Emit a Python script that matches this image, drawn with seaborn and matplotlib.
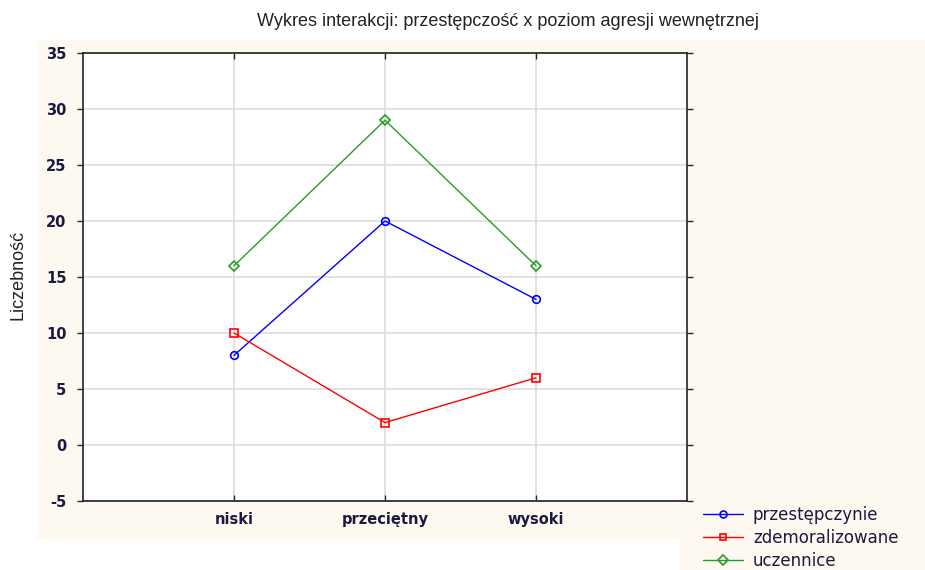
import numpy as np
import pandas as pd
import seaborn as sns
import matplotlib.pyplot as plt
from matplotlib.lines import Line2D
from matplotlib.patches import Rectangle

# data
poziomy = ['niski', 'przeciętny', 'wysoki']
grupy = ['przestępczynie', 'zdemoralizowane', 'uczennice']
przestepczynie = [8, 20, 13]
zdemoralizowane = [10, 2, 6]
uczennice = [16, 29, 16]
y_ticks = [-5, 0, 5, 10, 15, 20, 25, 30, 35]

kolory = {'przestępczynie': '#0000ff', 'zdemoralizowane': '#ff0000', 'uczennice': '#2a9a2a'}
markery = {'przestępczynie': 'o', 'zdemoralizowane': 's', 'uczennice': 'D'}

df = pd.DataFrame({
    'poziom': poziomy * 3,
    'x': list(range(len(poziomy))) * 3,
    'grupa': np.repeat(grupy, len(poziomy)),
    'liczebnosc': przestepczynie + zdemoralizowane + uczennice,
})

sns.set_style('white')
plt.rcParams['font.family'] = ['DejaVu Sans']
plt.rcParams['axes.unicode_minus'] = False

fig = plt.figure(figsize=(9.25, 5.7), dpi=100)
# cream background behind the plot area and legend
fig.patches.append(Rectangle((38 / 925, 1 - 538 / 570), (925 - 38) / 925, (538 - 40) / 570,
                             transform=fig.transFigure, color='#fdf8f0', zorder=-1))
fig.patches.append(Rectangle((680 / 925, 0), 245 / 925, 1 - 538 / 570 + 0.001,
                             transform=fig.transFigure, color='#fdf8f0', zorder=-1))

ax = fig.add_axes([83 / 925, 1 - 501 / 570, 604 / 925, 448 / 570])
sns.lineplot(data=df, x='x', y='liczebnosc', hue='grupa', style='grupa',
             palette=kolory, markers=markery, dashes=False, legend=False,
             linewidth=1, ax=ax)
# hollow markers in the line colour
for line in ax.get_lines():
    line.set_markerfacecolor('none')
    line.set_markeredgecolor(line.get_color())
    line.set_markeredgewidth(1.2)
    line.set_markersize(5.5)

ax.set_xlim(-1, 3)
ax.set_ylim(-5, 35)
ax.set_xticks(range(len(poziomy)))
ax.set_xticklabels(poziomy)
ax.set_yticks(y_ticks)
ax.grid(True, color='#dddddd', linewidth=1.2)
ax.set_axisbelow(True)
for s in ax.spines.values():
    s.set_color('#222222')
    s.set_linewidth(1.2)
ax.tick_params(axis='both', which='both', direction='in', length=4, width=1,
               top=True, right=True, bottom=True, left=True,
               labelsize=10.5, labelcolor='#1a1a40', pad=8)
ax.tick_params(axis='y', direction='out', length=4)
for lab in ax.get_xticklabels() + ax.get_yticklabels():
    lab.set_fontweight('semibold')
ax.set_xlabel('')
ax.set_ylabel('')

fig.text(18 / 925, 1 - 275 / 570, 'Liczebność', rotation=90, va='center', ha='center',
         fontsize=13, family='Liberation Sans', color='#222222')
fig.text(508 / 925, 1 - 22 / 570, 'Wykres interakcji: przestępczość x poziom agresji wewnętrznej',
         ha='center', va='center', fontsize=13, family='Liberation Sans', color='#222222')

uchwyty = [Line2D([], [], color=kolory[g], marker=markery[g], markerfacecolor='none',
                  markersize=5, markeredgewidth=1.2, linewidth=1) for g in grupy]
leg = fig.legend(uchwyty, grupy, loc='upper left', bbox_to_anchor=(703 / 925, 1 - 506 / 570),
                 frameon=False, fontsize=12, handlelength=2.4, handletextpad=0.6,
                 labelspacing=0.3, borderaxespad=0, borderpad=0)
for t in leg.get_texts():
    t.set_color('#1a1a40')

fig.savefig('out.png', dpi=100)
